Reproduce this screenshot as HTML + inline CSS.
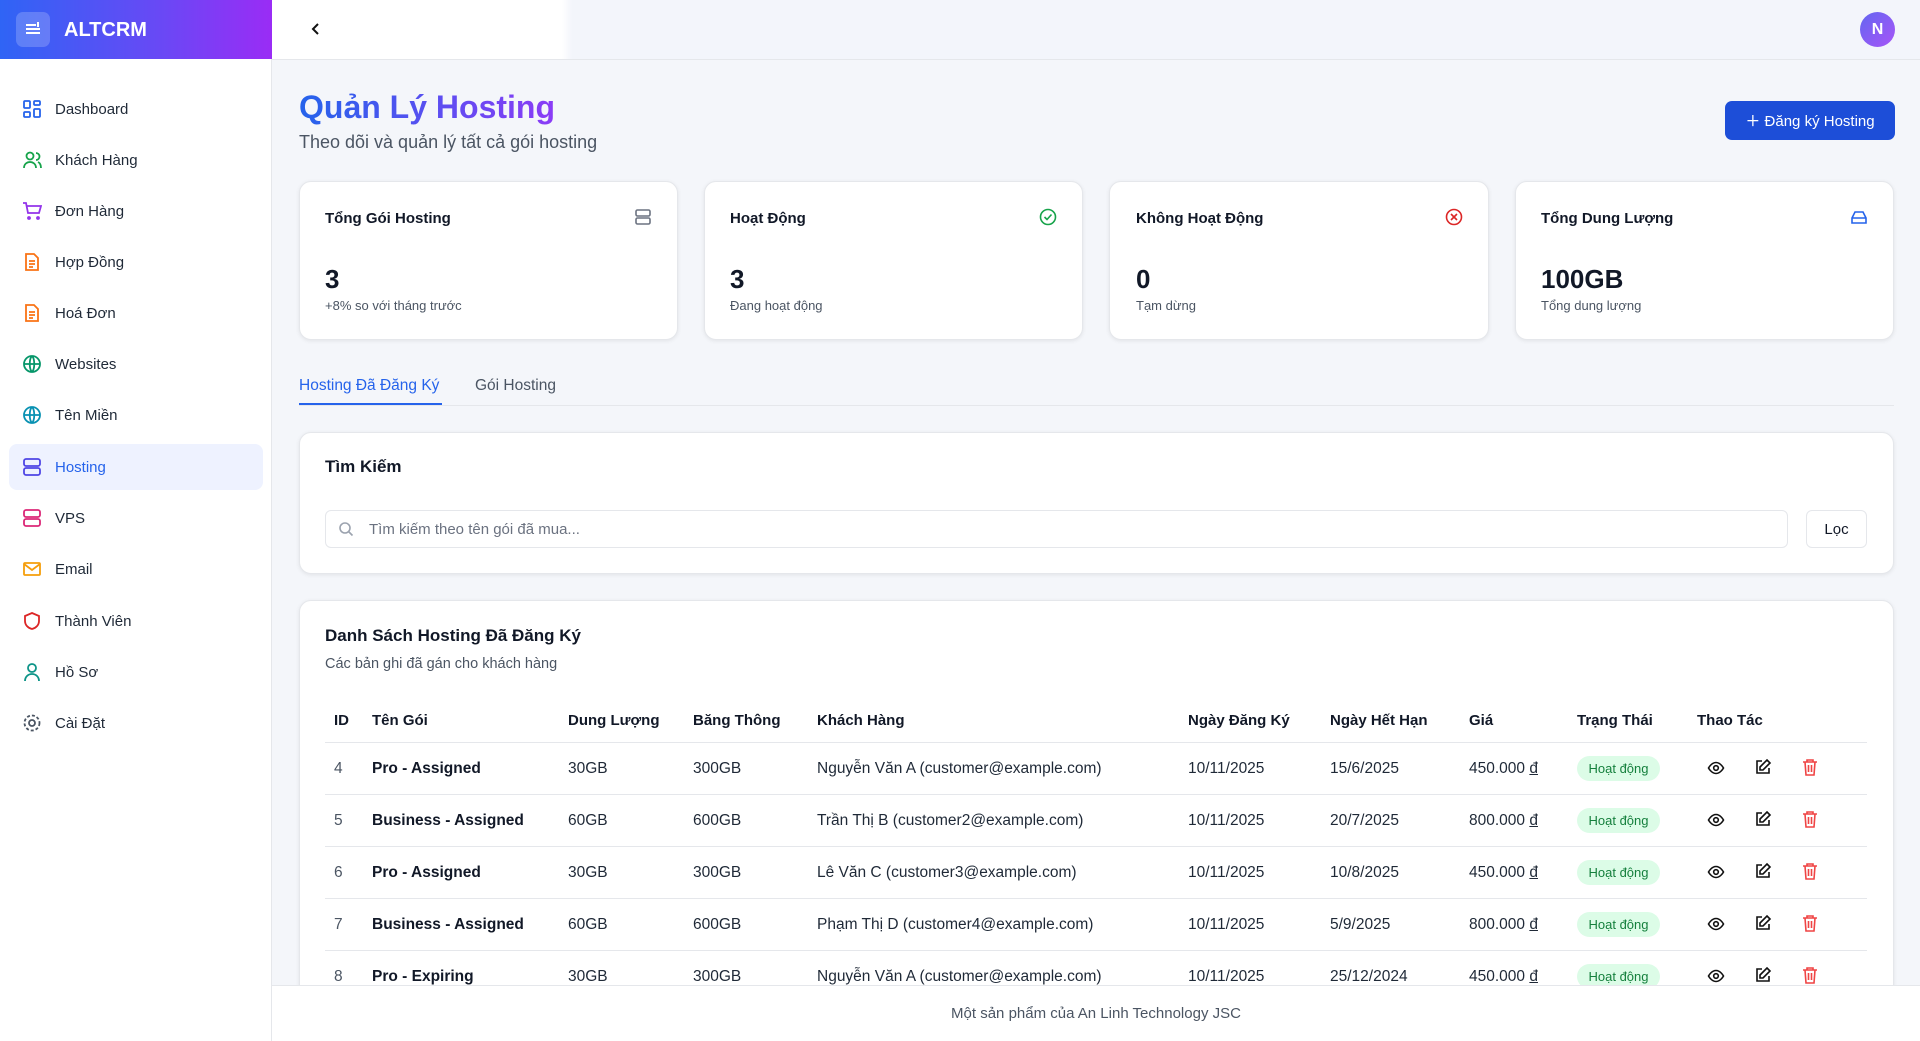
<!DOCTYPE html>
<html><head><meta charset="utf-8"><style>
*{box-sizing:border-box;margin:0;padding:0}
body{width:1920px;height:1041px;overflow:hidden;font-family:"Liberation Sans","Noto Sans CJK SC",sans-serif;background:#f4f6fa;color:#111827;position:relative}
.abs{position:absolute}
.side{left:0;top:0;width:272px;height:1041px;background:#fff;border-right:1px solid #e5e7eb}
.logo{left:0;top:0;width:272px;height:59px;background:linear-gradient(90deg,#2f64f5,#6a48f5 60%,#9a2cf5)}
.nav{position:absolute;left:9px;width:254px;height:46px;display:flex;align-items:center;font-size:15px;color:#1f2937;font-weight:500}
.nav svg{position:absolute;left:13px}
.nav span{position:absolute;left:46px}
.card{background:#fff;border:1px solid #e5e7eb;border-radius:12px;box-shadow:0 1px 4px rgba(0,0,0,.08)}
.ct{font-size:15px;font-weight:600}
.cn{font-size:26px;font-weight:700}
.cs{font-size:13px;color:#4b5563}
.th{font-size:15px;font-weight:600;color:#111827}
.td{font-size:15.5px;color:#1f2937}
.line{left:325px;width:1542px;height:1px;background:#e5e7eb}
.badge{width:83px;height:25px;border-radius:13px;background:#dcfce7;color:#15803d;font-size:13px;display:flex;align-items:center;justify-content:center}
</style></head><body>
<div class="abs side"></div>
<div class="abs logo"></div>
<div class="abs" style="left:16px;top:12px;width:34px;height:35px;border-radius:7px;background:rgba(255,255,255,.2)"></div>
<svg class="abs" style="left:23px;top:19px" width="20" height="20" viewBox="0 0 20 20" stroke="#fff" stroke-width="2" fill="none"><path d="M3 6h10M3 10h14M3 14h14M15 3v5"/></svg>
<div class="abs" style="left:64px;top:19px;font-size:20px;font-weight:700;color:#fff">ALTCRM</div>

<div class="abs" style="left:9px;top:444px;width:254px;height:46px;background:#eef2ff;border-radius:8px"></div>
<div class="nav" style="top:86px"><svg width="20" height="20" viewBox="0 0 20 20" fill="none" stroke="#2563eb" stroke-width="1.8"><rect x="2" y="2" width="6" height="7" rx="1"/><rect x="12" y="2" width="6" height="4" rx="1"/><rect x="2" y="13" width="6" height="5" rx="1"/><rect x="12" y="10" width="6" height="8" rx="1"/></svg><span>Dashboard</span></div>
<div class="nav" style="top:137px"><svg width="20" height="20" viewBox="0 0 20 20" fill="none" stroke="#16a34a" stroke-width="1.8"><circle cx="8" cy="6" r="3.5"/><path d="M2 18c0-4 3-6 6-6s6 2 6 6M14 3a3.5 3.5 0 010 7M16 12c2 1 3 3 3 6"/></svg><span>Khách Hàng</span></div>
<div class="nav" style="top:188px"><svg width="20" height="20" viewBox="0 0 20 20" fill="none" stroke="#9333ea" stroke-width="1.8"><path d="M1 2h3l2 10h11l2-7H5"/><circle cx="7" cy="17" r="1"/><circle cx="16" cy="17" r="1"/></svg><span>Đơn Hàng</span></div>
<div class="nav" style="top:239px"><svg width="20" height="20" viewBox="0 0 20 20" fill="none" stroke="#f97316" stroke-width="1.8"><path d="M4 2h8l4 4v12H4z M7 9h6M7 12h6M7 15h4"/></svg><span>Hợp Đồng</span></div>
<div class="nav" style="top:290px"><svg width="20" height="20" viewBox="0 0 20 20" fill="none" stroke="#f97316" stroke-width="1.8"><path d="M4 2h8l4 4v12H4z M7 9h6M7 12h6M7 15h4"/></svg><span>Hoá Đơn</span></div>
<div class="nav" style="top:341px"><svg width="20" height="20" viewBox="0 0 20 20" fill="none" stroke="#059669" stroke-width="1.8"><circle cx="10" cy="10" r="8"/><path d="M2 10h16M10 2c3 3 3 13 0 16M10 2c-3 3-3 13 0 16"/></svg><span>Websites</span></div>
<div class="nav" style="top:392px"><svg width="20" height="20" viewBox="0 0 20 20" fill="none" stroke="#0891b2" stroke-width="1.8"><circle cx="10" cy="10" r="8"/><path d="M2 10h16M10 2c3 3 3 13 0 16M10 2c-3 3-3 13 0 16"/></svg><span>Tên Miền</span></div>
<div class="nav" style="top:444px;color:#2563eb"><svg width="20" height="20" viewBox="0 0 20 20" fill="none" stroke="#4f46e5" stroke-width="1.8"><rect x="2" y="2" width="16" height="7" rx="2"/><rect x="2" y="11" width="16" height="7" rx="2"/></svg><span>Hosting</span></div>
<div class="nav" style="top:495px"><svg width="20" height="20" viewBox="0 0 20 20" fill="none" stroke="#db2777" stroke-width="1.8"><rect x="2" y="2" width="16" height="7" rx="2"/><rect x="2" y="11" width="16" height="7" rx="2"/></svg><span>VPS</span></div>
<div class="nav" style="top:546px"><svg width="20" height="20" viewBox="0 0 20 20" fill="none" stroke="#f59e0b" stroke-width="1.8"><rect x="2" y="4" width="16" height="12" rx="1"/><path d="M2 5l8 6 8-6"/></svg><span>Email</span></div>
<div class="nav" style="top:598px"><svg width="20" height="20" viewBox="0 0 20 20" fill="none" stroke="#dc2626" stroke-width="1.8"><path d="M10 2l7 3v5c0 4-3 7-7 8-4-1-7-4-7-8V5z"/></svg><span>Thành Viên</span></div>
<div class="nav" style="top:649px"><svg width="20" height="20" viewBox="0 0 20 20" fill="none" stroke="#0d9488" stroke-width="1.8"><circle cx="10" cy="6" r="4"/><path d="M3 19c0-4 3-7 7-7s7 3 7 7"/></svg><span>Hồ Sơ</span></div>
<div class="nav" style="top:700px"><svg width="20" height="20" viewBox="0 0 20 20" fill="none" stroke="#4b5563" stroke-width="1.8"><circle cx="10" cy="10" r="3"/><circle cx="10" cy="10" r="7.5" stroke-dasharray="3 2"/></svg><span>Cài Đặt</span></div>

<div class="abs" style="left:272px;top:0;width:1648px;height:60px;background:linear-gradient(90deg,#fff 0,#fff 290px,#f3f5fb 300px);border-bottom:1px solid #e5e7eb"></div>
<svg class="abs" style="left:309px;top:21px" width="14" height="16" viewBox="0 0 14 16" fill="none" stroke="#111" stroke-width="2"><path d="M9 3L4 8l5 5"/></svg>
<div class="abs" style="left:1860px;top:12px;width:35px;height:35px;border-radius:50%;background:linear-gradient(135deg,#6366f1,#a855f7);color:#fff;font-size:16px;font-weight:600;display:flex;align-items:center;justify-content:center">N</div>

<div class="abs" style="left:299px;top:86px;font-size:32px;font-weight:700;background:linear-gradient(90deg,#2563eb,#8b3cf6);-webkit-background-clip:text;background-clip:text;color:transparent;line-height:42px">Quản Lý Hosting</div>
<div class="abs" style="left:299px;top:132px;font-size:18px;color:#4b5563">Theo dõi và quản lý tất cả gói hosting</div>
<div class="abs" style="left:1725px;top:101px;width:170px;height:39px;border-radius:7px;background:#1d4ed8;color:#fff;font-size:15px;font-weight:500;display:flex;align-items:center;justify-content:center">＋&nbsp;Đăng ký Hosting</div>

<div class="abs card" style="left:299px;top:181px;width:379px;height:159px"></div>
<div class="abs card" style="left:704px;top:181px;width:379px;height:159px"></div>
<div class="abs card" style="left:1109px;top:181px;width:380px;height:159px"></div>
<div class="abs card" style="left:1515px;top:181px;width:379px;height:159px"></div>
<div class="abs ct" style="left:325px;top:210px">Tổng Gói Hosting</div>
<div class="abs ct" style="left:730px;top:210px">Hoạt Động</div>
<div class="abs ct" style="left:1136px;top:210px">Không Hoạt Động</div>
<div class="abs ct" style="left:1541px;top:210px">Tổng Dung Lượng</div>
<svg class="abs" style="left:634px;top:208px" width="18" height="18" viewBox="0 0 18 18" fill="none" stroke="#6b7280" stroke-width="1.6"><rect x="2" y="2" width="14" height="6" rx="1.5"/><rect x="2" y="10" width="14" height="6" rx="1.5"/></svg>
<svg class="abs" style="left:1039px;top:208px" width="18" height="18" viewBox="0 0 18 18" fill="none" stroke="#16a34a" stroke-width="1.6"><circle cx="9" cy="9" r="7.5"/><path d="M5.5 9l2.5 2.5 4.5-5"/></svg>
<svg class="abs" style="left:1445px;top:208px" width="18" height="18" viewBox="0 0 18 18" fill="none" stroke="#dc2626" stroke-width="1.6"><circle cx="9" cy="9" r="7.5"/><path d="M6 6l6 6M12 6l-6 6"/></svg>
<svg class="abs" style="left:1850px;top:208px" width="18" height="18" viewBox="0 0 18 18" fill="none" stroke="#2563eb" stroke-width="1.6"><path d="M2 10l3-6h8l3 6v5H2z M2 10h14"/></svg>
<div class="abs cn" style="left:325px;top:264px">3</div>
<div class="abs cn" style="left:730px;top:264px">3</div>
<div class="abs cn" style="left:1136px;top:264px">0</div>
<div class="abs cn" style="left:1541px;top:264px">100GB</div>
<div class="abs cs" style="left:325px;top:298px">+8% so với tháng trước</div>
<div class="abs cs" style="left:730px;top:298px">Đang hoạt động</div>
<div class="abs cs" style="left:1136px;top:298px">Tạm dừng</div>
<div class="abs cs" style="left:1541px;top:298px">Tổng dung lượng</div>

<div class="abs" style="left:299px;top:405px;width:1595px;height:1px;background:#e5e7eb"></div>
<div class="abs" style="left:299px;top:377px;font-size:15.5px;color:#2563eb;font-weight:500">Hosting Đã Đăng Ký</div>
<div class="abs" style="left:299px;top:403px;width:143px;height:2px;background:#2563eb"></div>
<div class="abs" style="left:475px;top:377px;font-size:15.5px;color:#4b5563">Gói Hosting</div>

<div class="abs card" style="left:299px;top:432px;width:1595px;height:142px"></div>
<div class="abs" style="left:325px;top:457px;font-size:17px;font-weight:600">Tìm Kiếm</div>
<div class="abs" style="left:325px;top:510px;width:1463px;height:38px;border:1px solid #e5e7eb;border-radius:6px;background:#fff"></div>
<svg class="abs" style="left:338px;top:521px" width="16" height="16" viewBox="0 0 16 16" fill="none" stroke="#9ca3af" stroke-width="1.6"><circle cx="7" cy="7" r="5"/><path d="M11 11l3.5 3.5"/></svg>
<div class="abs" style="left:369px;top:521px;font-size:15px;color:#6b7280">Tìm kiếm theo tên gói đã mua...</div>
<div class="abs" style="left:1806px;top:510px;width:61px;height:38px;border:1px solid #e5e7eb;border-radius:6px;background:#fff;font-size:15px;font-weight:500;display:flex;align-items:center;justify-content:center">Lọc</div>

<div class="abs card" style="left:299px;top:600px;width:1595px;height:440px"></div>
<div class="abs" style="left:325px;top:626px;font-size:17px;font-weight:600">Danh Sách Hosting Đã Đăng Ký</div>
<div class="abs" style="left:325px;top:656px;font-size:14.5px;color:#4b5563">Các bản ghi đã gán cho khách hàng</div>

<div class="abs th" style="left:334px;top:712px">ID</div>
<div class="abs th" style="left:372px;top:712px">Tên Gói</div>
<div class="abs th" style="left:568px;top:712px">Dung Lượng</div>
<div class="abs th" style="left:693px;top:712px">Băng Thông</div>
<div class="abs th" style="left:817px;top:712px">Khách Hàng</div>
<div class="abs th" style="left:1188px;top:712px">Ngày Đăng Ký</div>
<div class="abs th" style="left:1330px;top:712px">Ngày Hết Hạn</div>
<div class="abs th" style="left:1469px;top:712px">Giá</div>
<div class="abs th" style="left:1577px;top:712px">Trạng Thái</div>
<div class="abs th" style="left:1697px;top:712px">Thao Tác</div>
<div class="abs line" style="top:742px"></div>
<div class="abs line" style="top:794px"></div>
<div class="abs line" style="top:846px"></div>
<div class="abs line" style="top:898px"></div>
<div class="abs line" style="top:950px"></div>

<div id="rows"></div>
<script>
var U=' <span style="text-decoration:underline">đ</span>';
var d=[["4","Pro - Assigned","30GB","300GB","Nguyễn Văn A (customer@example.com)","15/6/2025","450.000"+U],
["5","Business - Assigned","60GB","600GB","Trần Thị B (customer2@example.com)","20/7/2025","800.000"+U],
["6","Pro - Assigned","30GB","300GB","Lê Văn C (customer3@example.com)","10/8/2025","450.000"+U],
["7","Business - Assigned","60GB","600GB","Phạm Thị D (customer4@example.com)","5/9/2025","800.000"+U],
["8","Pro - Expiring","30GB","300GB","Nguyễn Văn A (customer@example.com)","25/12/2024","450.000"+U]];
var h="";
d.forEach(function(r,i){var c=768+i*52,t=c-8;
function td(x,s,st){h+='<div class="abs td" style="left:'+x+'px;top:'+t+'px;'+(st||'')+'">'+s+'</div>';}
td(334,r[0],'color:#4b5563');td(372,r[1],'font-weight:600;color:#111827');td(568,r[2]);td(693,r[3]);td(817,r[4]);td(1188,"10/11/2025");td(1330,r[5]);td(1469,r[6]);
h+='<div class="abs badge" style="left:1577px;top:'+(c-12)+'px">Hoạt động</div>';
h+='<svg class="abs" style="left:1707px;top:'+(c-9)+'px" width="18" height="18" viewBox="0 0 18 18" fill="none" stroke="#111" stroke-width="1.6"><path d="M1.5 9s3-5.5 7.5-5.5S16.5 9 16.5 9s-3 5.5-7.5 5.5S1.5 9 1.5 9z"/><circle cx="9" cy="9" r="2.3"/></svg>';
h+='<svg class="abs" style="left:1754px;top:'+(c-10)+'px" width="18" height="18" viewBox="0 0 18 18" fill="none" stroke="#111" stroke-width="1.6"><path d="M8 3H3v12h12v-5M13 2l3 3-7 7H6V9z"/></svg>';
h+='<svg class="abs" style="left:1801px;top:'+(c-10)+'px" width="18" height="18" viewBox="0 0 18 18" fill="none" stroke="#ef4444" stroke-width="1.6"><path d="M2 4h14M6 4V2h6v2M4 4l1 13h8l1-13M7.5 7v7M10.5 7v7"/></svg>';
});
document.getElementById("rows").innerHTML=h;
</script>

<div class="abs" style="left:272px;top:985px;width:1648px;height:56px;background:#fff;border-top:1px solid #e5e7eb"></div>
<div class="abs" style="left:272px;top:1005px;width:1648px;text-align:center;font-size:15px;color:#4b5563">Một sản phẩm của An Linh Technology JSC</div>
</body></html>
